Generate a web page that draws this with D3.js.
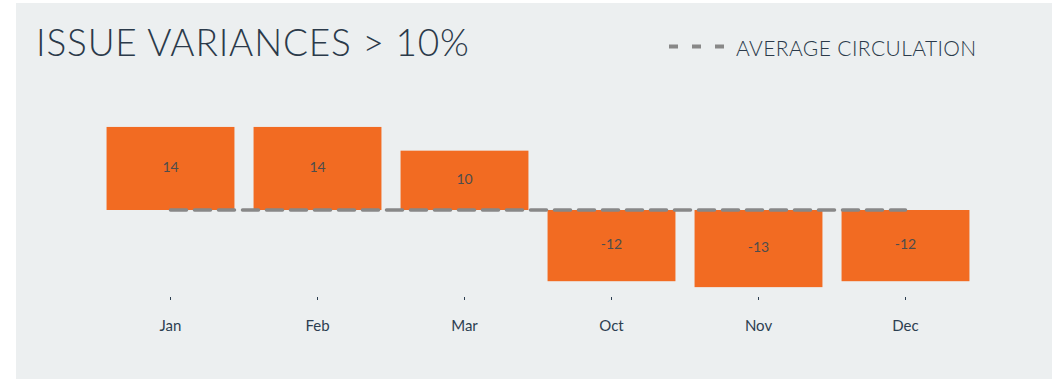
<!DOCTYPE html>
<html>
<head>
<meta charset="utf-8">
<script src="https://cdn.jsdelivr.net/npm/d3@7"></script>
<style>
  html, body { margin: 0; padding: 0; background: #ffffff; }
  svg { display: block; }
  text { font-family: Lato, "Open Sans", sans-serif; }
</style>
</head>
<body>
<svg id="chart" width="1056" height="379"></svg>
<script>
const months = ["Jan", "Feb", "Mar", "Oct", "Nov", "Dec"];
const variances = [14, 14, 10, -12, -13, -12];
const averageCirculation = [0, 0, 0, 0, 0, 0];
const titleText = "ISSUE VARIANCES > 10%";
const legendText = "AVERAGE CIRCULATION";

const svg = d3.select("#chart");

svg.append("rect").attr("x", 16).attr("y", 3).attr("width", 1036).attr("height", 376).attr("fill", "#ECEFF0");

const x = d3.scaleBand().domain(months).range([97, 979]).paddingInner(0.13).paddingOuter(0.065);
const y = d3.scaleLinear().domain([-15, 15]).range([299, 121]);

// bars
svg.append("g").selectAll("rect").data(months).join("rect")
  .attr("x", d => x(d))
  .attr("width", x.bandwidth())
  .attr("y", (d, i) => y(Math.max(0, variances[i])))
  .attr("height", (d, i) => Math.abs(y(variances[i]) - y(0)))
  .attr("fill", "#F26B22");

// bar labels
svg.append("g").selectAll("text").data(months).join("text")
  .attr("x", d => x(d) + x.bandwidth() / 2)
  .attr("y", (d, i) => (y(variances[i]) + y(0)) / 2)
  .attr("text-anchor", "middle")
  .attr("dominant-baseline", "middle")
  .attr("font-size", 14)
  .attr("font-weight", 400)
  .attr("fill", "#4d4d4d")
  .text((d, i) => variances[i]);

// average line
const line = d3.line().x((d, i) => x(months[i]) + x.bandwidth() / 2).y(d => y(d));
svg.append("path").datum(averageCirculation)
  .attr("d", line)
  .attr("fill", "none")
  .attr("stroke", "#888888")
  .attr("stroke-width", 3.5)
  .attr("stroke-linecap", "round")
  .attr("stroke-dasharray", "16 8");

// axis
const axis = svg.append("g").attr("transform", "translate(0,297)")
  .call(d3.axisBottom(x).tickSize(3).tickPadding(20));
axis.select(".domain").remove();
axis.selectAll(".tick line").attr("stroke", "#2c3e50");
axis.selectAll(".tick text").attr("font-size", 15).attr("fill", "#2c3e50").attr("font-family", "Lato, sans-serif");

// title
svg.append("text").attr("x", 36).attr("y", 56)
  .attr("font-size", 37).attr("fill", "#2B3A4A").attr("font-weight", 300)
  .attr("letter-spacing", 0.8)
  .text(titleText);

// legend
svg.append("line").attr("x1", 669).attr("x2", 725).attr("y1", 46.5).attr("y2", 46.5)
  .attr("stroke", "#888888").attr("stroke-width", 4).attr("stroke-dasharray", "9 14");
svg.append("text").attr("x", 736).attr("y", 56)
  .attr("font-size", 21).attr("fill", "#2B3A4A").attr("font-weight", 300)
  .attr("letter-spacing", 0.4)
  .text(legendText);
</script>
</body>
</html>
